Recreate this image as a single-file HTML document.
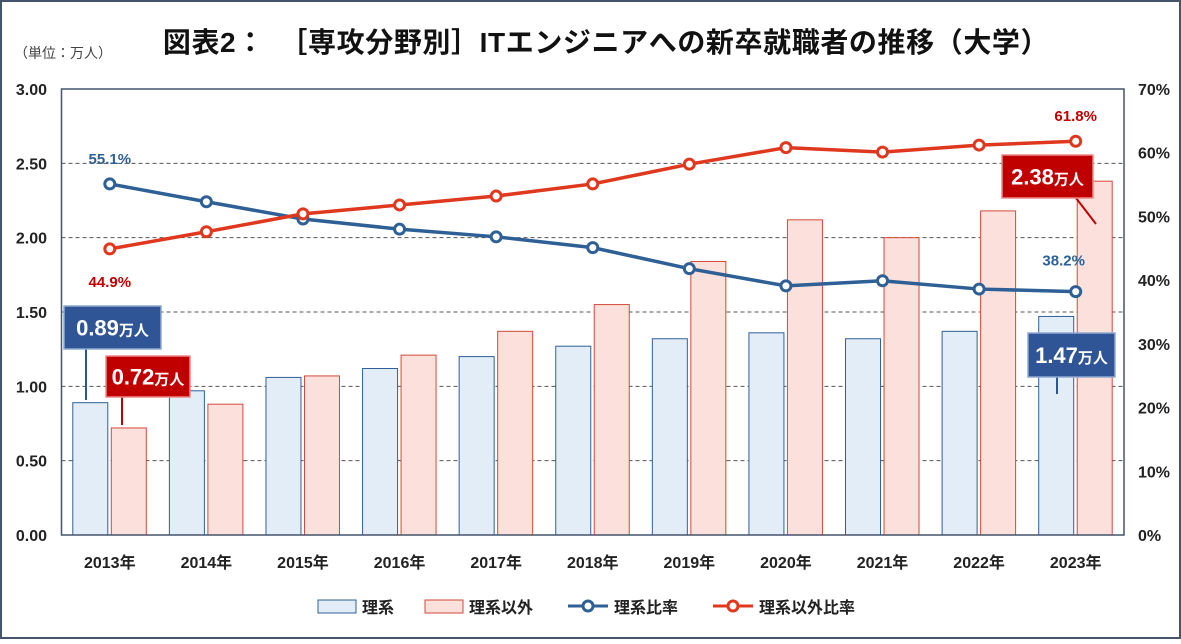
<!DOCTYPE html>
<html><head><meta charset="utf-8"><style>
body{margin:0;background:#fff}
svg text{font-family:"Liberation Sans","Noto Sans CJK JP",sans-serif}
</style></head><body>
<svg id="c" width="1181" height="639" xmlns="http://www.w3.org/2000/svg">
<rect x="1" y="1" width="1179" height="637" fill="#fff" stroke="#44546a" stroke-width="2"/>
<text x="606" y="52" text-anchor="middle" font-size="28" font-weight="bold" fill="#111" letter-spacing="0.6">図表2：　［専攻分野別］ITエンジニアへの新卒就職者の推移（大学）</text>
<text x="14" y="58" font-size="14" fill="#444">（単位：万人）</text>
<g id="grid"></g><g id="bars"></g><g id="lines"></g><g id="axes"></g><g id="ann"></g>
<g font-size="16" font-weight="bold" fill="#222">
<rect x="318" y="600" width="38" height="13" fill="#e3edf8" stroke="#2e6096"/>
<text x="362" y="613">理系</text>
<rect x="425" y="600" width="38" height="13" fill="#fbe0dc" stroke="#d24a3a"/>
<text x="469" y="613">理系以外</text>
<line x1="568" y1="606" x2="608" y2="606" stroke="#2e6096" stroke-width="3"/>
<circle cx="588" cy="606" r="5" fill="#fff" stroke="#2e6096" stroke-width="3"/>
<text x="614" y="613">理系比率</text>
<line x1="713" y1="606" x2="753" y2="606" stroke="#e0381f" stroke-width="3"/>
<circle cx="733" cy="606" r="5" fill="#fff" stroke="#e0381f" stroke-width="3"/>
<text x="759" y="613">理系以外比率</text>
</g>
</svg>
<script>
const years=["2013年","2014年","2015年","2016年","2017年","2018年","2019年","2020年","2021年","2022年","2023年"];
const rikei=[0.89,0.97,1.06,1.12,1.20,1.27,1.32,1.36,1.32,1.37,1.47];
const other=[0.72,0.88,1.07,1.21,1.37,1.55,1.84,2.12,2.00,2.18,2.38];
const rikeiPct=[55.1,52.3,49.6,48.0,46.8,45.1,41.8,39.1,39.9,38.6,38.2];
const otherPct=[44.9,47.6,50.4,51.8,53.2,55.1,58.2,60.8,60.1,61.2,61.8];
const leftTicks=["0.00","0.50","1.00","1.50","2.00","2.50","3.00"];
const rightTicks=["0%","10%","20%","30%","40%","50%","60%","70%"];
const NS="http://www.w3.org/2000/svg";
const L=61.5,R=1124,T=89,B=535,step=(R-L)/years.length;
const xc=i=>L+step*(i+0.5);
const yL=v=>B-(v/3)*(B-T);
const yR=p=>B-(p/70)*(B-T);
function mk(tag,at,parent,txt){const e=document.createElementNS(NS,tag);for(const k in at)e.setAttribute(k,at[k]);if(txt!==undefined)e.textContent=txt;document.getElementById(parent).appendChild(e);return e;}
leftTicks.forEach((t,i)=>{const v=parseFloat(t),y=yL(v);
 if(v>0&&v<3){const g=mk('line',{x1:L,x2:R,y1:y,y2:y,stroke:'#555','stroke-dasharray':'4,3','stroke-width':1},'grid');
 
 }
 const tx=mk('text',{x:47,y:y+6,'text-anchor':'end','font-size':16,'font-weight':'bold',fill:'#222'},'axes',t);
 
 });
rightTicks.forEach(t=>{const y=yR(parseFloat(t));
 const tx=mk('text',{x:1138,y:y+6,'font-size':16,'font-weight':'bold',fill:'#222'},'axes',t);
 
 });
const fr=mk('rect',{x:L,y:T,width:R-L,height:B-T,fill:'none',stroke:'#44546a','stroke-width':1.5},'axes');


years.forEach((yr,i)=>{
 const b1=mk('rect',{x:xc(i)-37,y:yL(rikei[i]),width:35,height:B-yL(rikei[i]),fill:'#e3edf8',stroke:'#2e6096','stroke-width':1},'bars');
 
 
 const b2=mk('rect',{x:xc(i)+1.5,y:yL(other[i]),width:35,height:B-yL(other[i]),fill:'#fbe0dc',stroke:'#d24a3a','stroke-width':1},'bars');
 
 
 const tx=mk('text',{x:xc(i),y:568,'text-anchor':'middle','font-size':16,'font-weight':'bold',fill:'#222'},'axes',yr);
 
 
});
[[rikeiPct,'#2e6096','rikei-ratio'],[otherPct,'#e0381f','other-ratio']].forEach(([d,c,n])=>{
 const p=mk('polyline',{points:d.map((v,i)=>xc(i)+','+yR(v)).join(' '),fill:'none',stroke:c,'stroke-width':3.5},'lines');
 
 
 d.forEach((v,i)=>{const m=mk('circle',{cx:xc(i),cy:yR(v),r:5,fill:'#fff',stroke:c,'stroke-width':3},'lines');
 
 });
});
function lab(x,y,t,c,n){const e=mk('text',{x:x,y:y,'text-anchor':'middle','font-size':15,'font-weight':'bold',fill:c},'ann',t);
 
 }
lab(xc(0),yR(rikeiPct[0])-20,rikeiPct[0]+'%','#2e6096','label-rikei-pct-first');
lab(xc(0),yR(otherPct[0])+38,otherPct[0]+'%','#c00000','label-other-pct-first');
lab(xc(10)-12,yR(rikeiPct[10])-26,rikeiPct[10]+'%','#2e6096','label-rikei-pct-last');
lab(xc(10),yR(otherPct[10])-20,otherPct[10]+'%','#c00000','label-other-pct-last');
function callout(bx,by,bw,bh,fill,stroke,val,lx1,ly1,lx2,ly2,c,n){
 mk('line',{x1:lx1,y1:ly1,x2:lx2,y2:ly2,stroke:c,'stroke-width':2},'ann');
 const r=mk('rect',{x:bx,y:by,width:bw,height:bh,fill:fill,stroke:stroke,'stroke-width':1.5},'ann');
 
 
 const t=mk('text',{x:bx+bw/2,y:by+bh/2+8,'text-anchor':'middle','font-size':22,'font-weight':'bold',fill:'#fff'},'ann');
 t.innerHTML=val+'<tspan font-size="15">万人</tspan>';
 
 }
callout(64,306,97,43,'#2f5597','#8fa9d0',rikei[0].toFixed(2),86,349,86,400,'#2f5597','callout-rikei-2013');
callout(106,356,84,41,'#c00000','#e88',other[0].toFixed(2),122,397,122,425,'#c00000','callout-other-2013');
callout(1002,155,91,43,'#c00000','#e88',other[10].toFixed(2),1076,198,1096,224,'#c00000','callout-other-2023');
callout(1028,333,87,44,'#2f5597','#8fa9d0',rikei[10].toFixed(2),1057,370,1057,394,'#2f5597','callout-rikei-2023');
</script>
</body></html>
